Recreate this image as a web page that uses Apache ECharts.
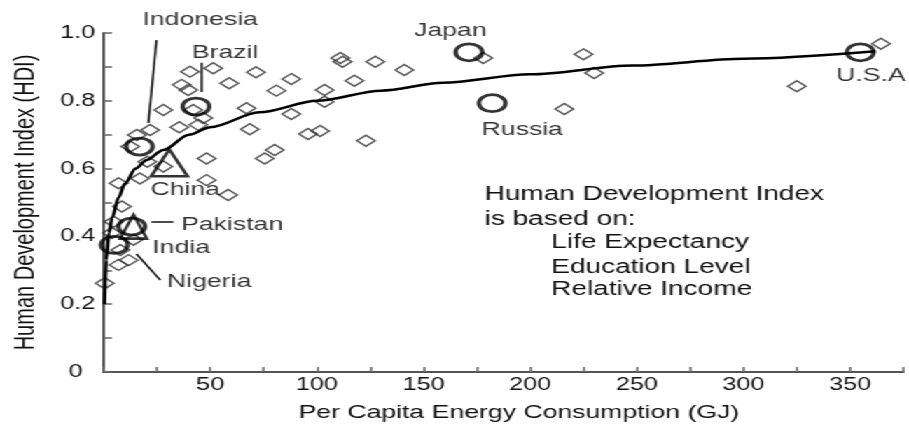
<!DOCTYPE html>
<html>
<head>
<meta charset="utf-8">
<title>HDI vs energy consumption</title>
<script src="https://cdn.jsdelivr.net/npm/echarts/dist/echarts.min.js"></script>
<style>
  html, body { margin: 0; padding: 0; background: #fff; overflow: hidden; }
  /* the source picture is stretched sideways, so the chart is drawn narrow and widened */
  #chart { width: 649px; height: 428px; transform: scaleX(1.4006); transform-origin: 0 0; }
</style>
</head>
<body>
<div id="chart"></div>
<script>
// countries shown as small diamonds [GJ per capita, HDI]
var otherCountries = [
  [364.5, 0.968], [325, 0.843], [225, 0.937], [230, 0.882], [216, 0.776], [178, 0.926],
  [111, 0.926], [112, 0.915], [127.4, 0.915], [141, 0.891], [117.6, 0.859],
  [71.4, 0.884], [88, 0.864], [81, 0.83], [103.6, 0.832], [103.6, 0.797], [88, 0.761],
  [67, 0.778], [68.5, 0.716], [95.8, 0.702], [101.5, 0.711], [123, 0.682],
  [80.2, 0.655], [75.5, 0.63], [40.5, 0.886], [51.4, 0.896], [58.9, 0.852],
  [36.6, 0.847], [39.7, 0.832], [28, 0.773], [42, 0.773], [46.7, 0.749],
  [35.5, 0.722], [44.4, 0.729], [21.8, 0.714], [15.6, 0.699], [12.5, 0.665],
  [48.3, 0.63], [28, 0.606], [48.3, 0.566], [58.4, 0.522], [7, 0.557], [17, 0.571],
  [20.5, 0.62], [8.6, 0.488], [4.7, 0.443], [3.9, 0.41], [7.8, 0.36], [7, 0.316],
  [11.7, 0.33], [0.5, 0.262], [14, 0.39]
];

// named countries drawn with a ring
var ringNames = ['U.S.A', 'Japan', 'Russia', 'Brazil', 'Indonesia', 'Pakistan', 'India'];
var ringX = [354.8, 171.3, 182.2, 43.3, 16.8, 13.2, 5];
var ringY = [0.943, 0.943, 0.793, 0.783, 0.665, 0.429, 0.375];

// triangles (China, and the one under Pakistan)
var triangleNames = ['China', 'Pakistan'];
var triangleX = [30.8, 14];
var triangleY = [0.617, 0.429];

// trend curve
var trendCurve = [
  [0.4, 0.2], [1.2, 0.33], [2.5, 0.41], [4, 0.455], [7, 0.515], [10, 0.556],
  [15, 0.6], [20, 0.625], [28, 0.655], [40, 0.7], [50, 0.722], [73, 0.766],
  [100, 0.8], [130, 0.83], [159, 0.853], [200, 0.878], [248, 0.904], [300, 0.924],
  [362, 0.946]
];

// country name labels and where their text sits
var labelNames = ['Indonesia', 'Brazil', 'Japan', 'Russia', 'U.S.A', 'China', 'Pakistan', 'India', 'Nigeria'];
var labelX = [45.3, 57, 162.6, 196.3, 359.8, 38.3, 60.3, 36.4, 49.5];
var labelY = [1.038, 0.941, 1.006, 0.714, 0.873, 0.537, 0.434, 0.366, 0.265];

// leader lines from labels to points
var leaderLines = [
  [[24.8, 0.979], [21, 0.735]],
  [[45.8, 0.912], [45.8, 0.826]],
  [[22.4, 0.442], [32.7, 0.442]],
  [[26.6, 0.271], [15.4, 0.348]]
];

var noteLines = ['Human Development Index', 'is based on:', 'Life Expectancy', 'Education Level', 'Relative Income'];

var font = '"Liberation Sans", Arial, sans-serif';
var textColor = '#111';

var chart = echarts.init(document.getElementById('chart'), null, { renderer: 'canvas' });

chart.setOption({
  animation: false,
  backgroundColor: '#fff',
  grid: { left: 71.4, right: 4, top: 33, bottom: 56 },
  xAxis: {
    type: 'value',
    min: 0,
    max: 375,
    interval: 25,
    name: 'Per Capita Energy Consumption (GJ)',
    nameLocation: 'middle',
    nameGap: 31,
    nameTextStyle: { fontFamily: font, fontSize: 19, color: textColor, padding: [0, 0, 0, 22] },
    axisLine: { lineStyle: { color: '#555', width: 2 } },
    axisTick: { inside: true, length: 5, lineStyle: { color: '#666', width: 1.5 } },
    axisLabel: {
      margin: 4,
      fontFamily: font,
      fontSize: 18,
      color: textColor,
      formatter: function (v) {
        return (v > 0 && v % 50 === 0) ? String(v) : '';
      }
    },
    splitLine: { show: false }
  },
  yAxis: {
    type: 'value',
    min: 0,
    max: 1,
    interval: 0.1,
    name: 'Human Development Index (HDI)',
    nameLocation: 'middle',
    nameGap: 46,
    nameTextStyle: { fontFamily: font, fontSize: 20, color: textColor },
    axisLine: { lineStyle: { color: '#555', width: 2 } },
    axisTick: { inside: true, length: 6, lineStyle: { color: '#666', width: 1.5 } },
    axisLabel: {
      margin: 6,
      fontFamily: font,
      fontSize: 18,
      color: textColor,
      formatter: function (v) {
        var k = Math.round(v * 10);
        if (k === 0) return '{zero|0}';
        return k % 2 === 0 ? (k / 10).toFixed(1) : '';
      },
      rich: {
        zero: { fontFamily: font, fontSize: 18, color: textColor, padding: [0, 9, 0, 0] }
      }
    },
    splitLine: { show: false }
  },
  graphic: [{
    type: 'group',
    left: 346,
    top: 184,
    children: noteLines.map(function (t, i) {
      return {
        type: 'text',
        x: i < 2 ? 0 : 47.6,
        y: [0, 25, 48, 73, 95][i],
        style: { text: t, fill: textColor, font: '20px ' + font }
      };
    })
  }],
  series: [
    {
      name: 'others',
      type: 'scatter',
      data: otherCountries,
      symbol: 'diamond',
      symbolSize: [13, 11],
      itemStyle: { color: 'rgba(0,0,0,0)', borderColor: '#333', borderWidth: 1.5 },
      z: 2
    },
    {
      name: 'trend',
      type: 'line',
      data: trendCurve,
      smooth: 0.3,
      smoothMonotone: 'x',
      showSymbol: false,
      lineStyle: { color: '#000', width: 2.5 },
      z: 3
    },
    {
      name: 'rings',
      type: 'scatter',
      data: ringX.map(function (x, i) { return { name: ringNames[i], value: [x, ringY[i]] }; }),
      symbol: 'circle',
      symbolSize: [19, 17],
      itemStyle: { color: 'rgba(0,0,0,0)', borderColor: '#000', borderWidth: 3 },
      z: 4
    },
    {
      name: 'triangles',
      type: 'scatter',
      data: triangleX.map(function (x, i) { return { name: triangleNames[i], value: [x, triangleY[i]] }; }),
      symbol: 'triangle',
      symbolSize: function (val, params) {
        return params.dataIndex === 0 ? [26, 27] : [19, 24];
      },
      itemStyle: { color: 'rgba(0,0,0,0)', borderColor: '#000', borderWidth: 2.5 },
      z: 4
    },
    {
      name: 'leaders',
      type: 'lines',
      coordinateSystem: 'cartesian2d',
      data: leaderLines.map(function (c) { return { coords: c }; }),
      lineStyle: { color: '#111', width: 1.5, opacity: 1 },
      clip: false,
      z: 4
    },
    {
      name: 'labels',
      type: 'scatter',
      data: labelX.map(function (x, i) { return { name: labelNames[i], value: [x, labelY[i]] }; }),
      symbolSize: 1,
      itemStyle: { color: 'rgba(0,0,0,0)' },
      clip: false,
      label: {
        show: true,
        position: 'inside',
        formatter: '{b}',
        fontFamily: font,
        fontSize: 19,
        color: '#000'
      },
      z: 5
    }
  ]
});
</script>
</body>
</html>
